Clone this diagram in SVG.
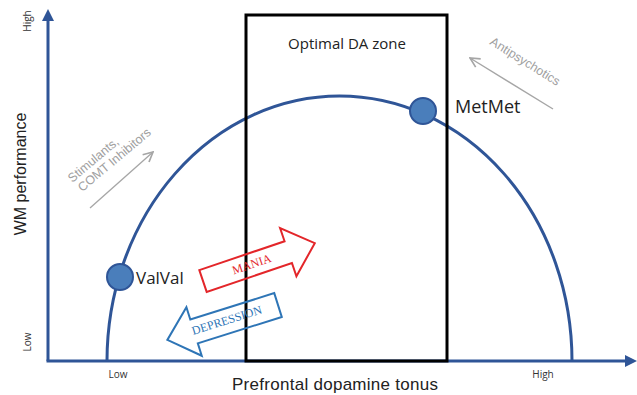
<svg xmlns="http://www.w3.org/2000/svg" width="637" height="395" viewBox="0 0 637 395">
<style>
.axis{stroke:#2f5597;stroke-width:3;fill:none}
.curve{stroke:#2f5597;stroke-width:3;fill:none}
.dot{fill:#4a7ebb;stroke:#2f5597;stroke-width:2}
.lbl{font-family:"Open Sans","Liberation Sans",sans-serif;fill:#222}
.title{font-family:"Liberation Sans",Arial,sans-serif;fill:#222}
.small{font-family:"Open Sans","Liberation Sans",sans-serif;font-size:10px;fill:#333}
.gray{font-family:"Liberation Sans",Arial,sans-serif;font-size:12.5px;fill:#a0a0a0}
.garrow{stroke:#a6a6a6;stroke-width:1.4;fill:none}
.serif{font-family:"Liberation Serif","Times New Roman",serif;font-size:12px;text-anchor:middle}
</style>
<defs>
<marker id="ah" markerUnits="userSpaceOnUse" markerWidth="14" markerHeight="14" refX="0" refY="6" orient="auto" viewBox="0 0 14 12">
<path d="M0,0 L12,6 L0,12 Z" fill="#2f5597"/>
</marker>
<marker id="gh" markerUnits="userSpaceOnUse" markerWidth="12" markerHeight="12" refX="9" refY="5" orient="auto" viewBox="0 0 10 10">
<path d="M1,1 L9,5 L1,9" fill="none" stroke="#a6a6a6" stroke-width="1.4"/>
</marker>
</defs>
<rect width="637" height="395" fill="#fff"/>
<g id="axes">
<line class="axis" x1="48" y1="361" x2="48" y2="21" marker-end="url(#ah)"/>
<line class="axis" x1="46.5" y1="361" x2="625" y2="361" marker-end="url(#ah)"/>
</g>
<g id="curve">
<path class="curve" d="M107,361 A232.5,265 0 0 1 572,361"/>
</g>
<g id="zone">
<rect x="246" y="15" width="201" height="346" fill="none" stroke="#000" stroke-width="3"/>
<text class="lbl" x="347" y="49" font-size="15" text-anchor="middle">Optimal DA zone</text>
</g>
<g id="valval">
<circle class="dot" cx="120" cy="277" r="13"/>
<text class="lbl" x="136" y="284" font-size="17">ValVal</text>
</g>
<g id="metmet">
<circle class="dot" cx="423" cy="111" r="13"/>
<text class="lbl" x="455" y="113" font-size="18">MetMet</text>
</g>
<g id="axis-labels">
<text class="title" font-size="16" text-anchor="middle" transform="translate(26,174) rotate(-90)">WM performance</text>
<text class="small" text-anchor="middle" transform="translate(31,21) rotate(-90)">High</text>
<text class="small" text-anchor="middle" transform="translate(31,342) rotate(-90)">Low</text>
<text class="small" x="118" y="378" text-anchor="middle">Low</text>
<text class="small" x="543" y="378" text-anchor="middle">High</text>
<text class="title" x="335" y="390" font-size="17" textLength="206" text-anchor="middle">Prefrontal dopamine tonus</text>
</g>
<g id="stimulants">
<text class="gray" text-anchor="middle" transform="translate(96,163) rotate(-40)">Stimulants,</text>
<text class="gray" text-anchor="middle" transform="translate(117,163) rotate(-40)">COMT Inhibitors</text>
</g>
<g id="antipsychotics">
<text class="gray" text-anchor="middle" transform="translate(523,65) rotate(32)">Antipsychotics</text>
</g>
<g id="mania">
<path d="M0,-11.5 L90,-11.5 L90,-25.5 L118,0 L90,25.5 L90,11.5 L0,11.5 Z" fill="none" stroke="#e3262a" stroke-width="2" stroke-linejoin="miter" transform="translate(203,281) rotate(-18.7)"/>
<text class="serif" fill="#e3262a" transform="translate(253,268) rotate(-18.7)">MANIA</text>
</g>
<g id="depression">
<path d="M0,-12.5 L88,-12.5 L88,-25.5 L116,0 L88,25.5 L88,12.5 L0,12.5 Z" fill="none" stroke="#2e75b6" stroke-width="2" stroke-linejoin="miter" transform="translate(278,305) rotate(162.5)"/>
<text class="serif" fill="#2e75b6" transform="translate(228,324) rotate(-17.5)">DEPRESSION</text>
</g>
<g id="connectors">
<line class="garrow" x1="90" y1="208" x2="153" y2="152" marker-end="url(#gh)"/>
<line class="garrow" x1="553" y1="109" x2="470" y2="58" marker-end="url(#gh)"/>
</g>
</svg>
